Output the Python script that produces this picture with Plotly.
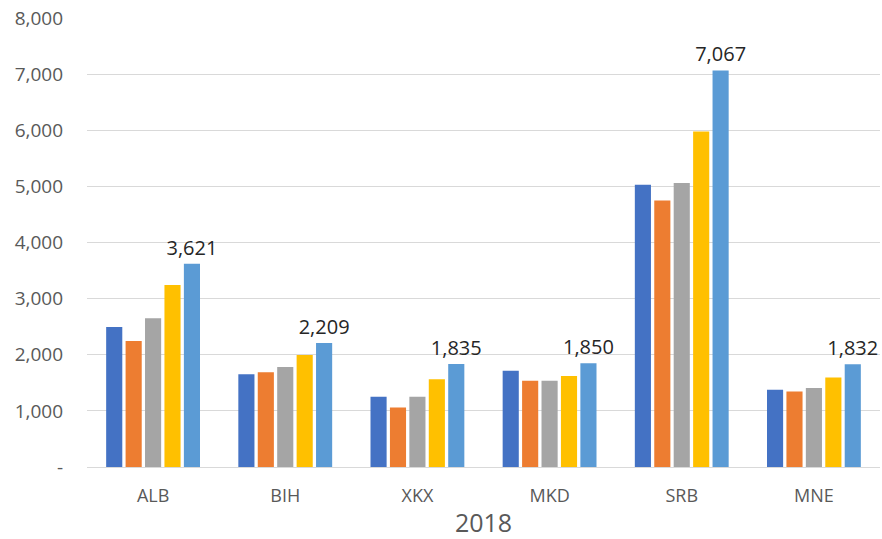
import plotly.graph_objects as go

categories = ["ALB", "BIH", "XKX", "MKD", "SRB", "MNE"]
series_names = ["2014", "2015", "2016", "2017", "2018"]
s1 = [2495, 1652, 1250, 1717, 5030, 1377]
s2 = [2245, 1687, 1060, 1535, 4751, 1347]
s3 = [2650, 1783, 1250, 1535, 5060, 1406]
s4 = [3245, 1996, 1563, 1623, 5979, 1596]
s5 = [3621, 2209, 1835, 1850, 7067, 1832]
colors = ["#4472C4", "#ED7D31", "#A5A5A5", "#FFC000", "#5B9BD5"]

y_ticks = [0, 1000, 2000, 3000, 4000, 5000, 6000, 7000, 8000]
y_ticktext = ["-", "1,000", "2,000", "3,000", "4,000", "5,000", "6,000", "7,000", "8,000"]

FONT = "Open Sans, Liberation Sans, sans-serif"

fig = go.Figure()
all_series = [s1, s2, s3, s4, s5]
for i, (name, vals) in enumerate(zip(series_names, all_series)):
    last = i == len(all_series) - 1
    fig.add_trace(go.Bar(
        x=categories, y=vals, name=name,
        marker=dict(color=colors[i], line=dict(width=0)),
        text=[f"{v:,}" for v in vals] if last else None,
        textposition="outside" if last else "none",
        constraintext="none",
        textfont=dict(family=FONT, size=20, color="#262626"),
        cliponaxis=False,
        hoverinfo="skip",
    ))

fig.update_layout(
    width=882, height=539,
    margin=dict(l=87, r=2, t=18, b=72),
    paper_bgcolor="white", plot_bgcolor="white",
    barmode="group", bargap=0.265, bargroupgap=0.17,
    showlegend=False,
    font=dict(family=FONT, color="#595959", size=19),
)
fig.update_yaxes(
    range=[0, 8001], tickvals=y_ticks, ticktext=y_ticktext,
    showgrid=True, gridcolor="#D9D9D9", gridwidth=1,
    zeroline=False, showline=False, ticks="", automargin=False,
    tickfont=dict(size=19, color="#595959"), ticklabelstandoff=23,
)
fig.update_xaxes(
    showline=True, linecolor="#D9D9D9", linewidth=1, ticks="", automargin=False,
    tickfont=dict(size=18, color="#595959"), ticklabelstandoff=12,
    title=dict(text="2018", font=dict(size=25, color="#595959"), standoff=9),
)
fig.write_html(
    "out.html",
    config={"displayModeBar": False},
    post_script="document.body.style.margin='0';document.body.style.overflow='hidden';",
)
